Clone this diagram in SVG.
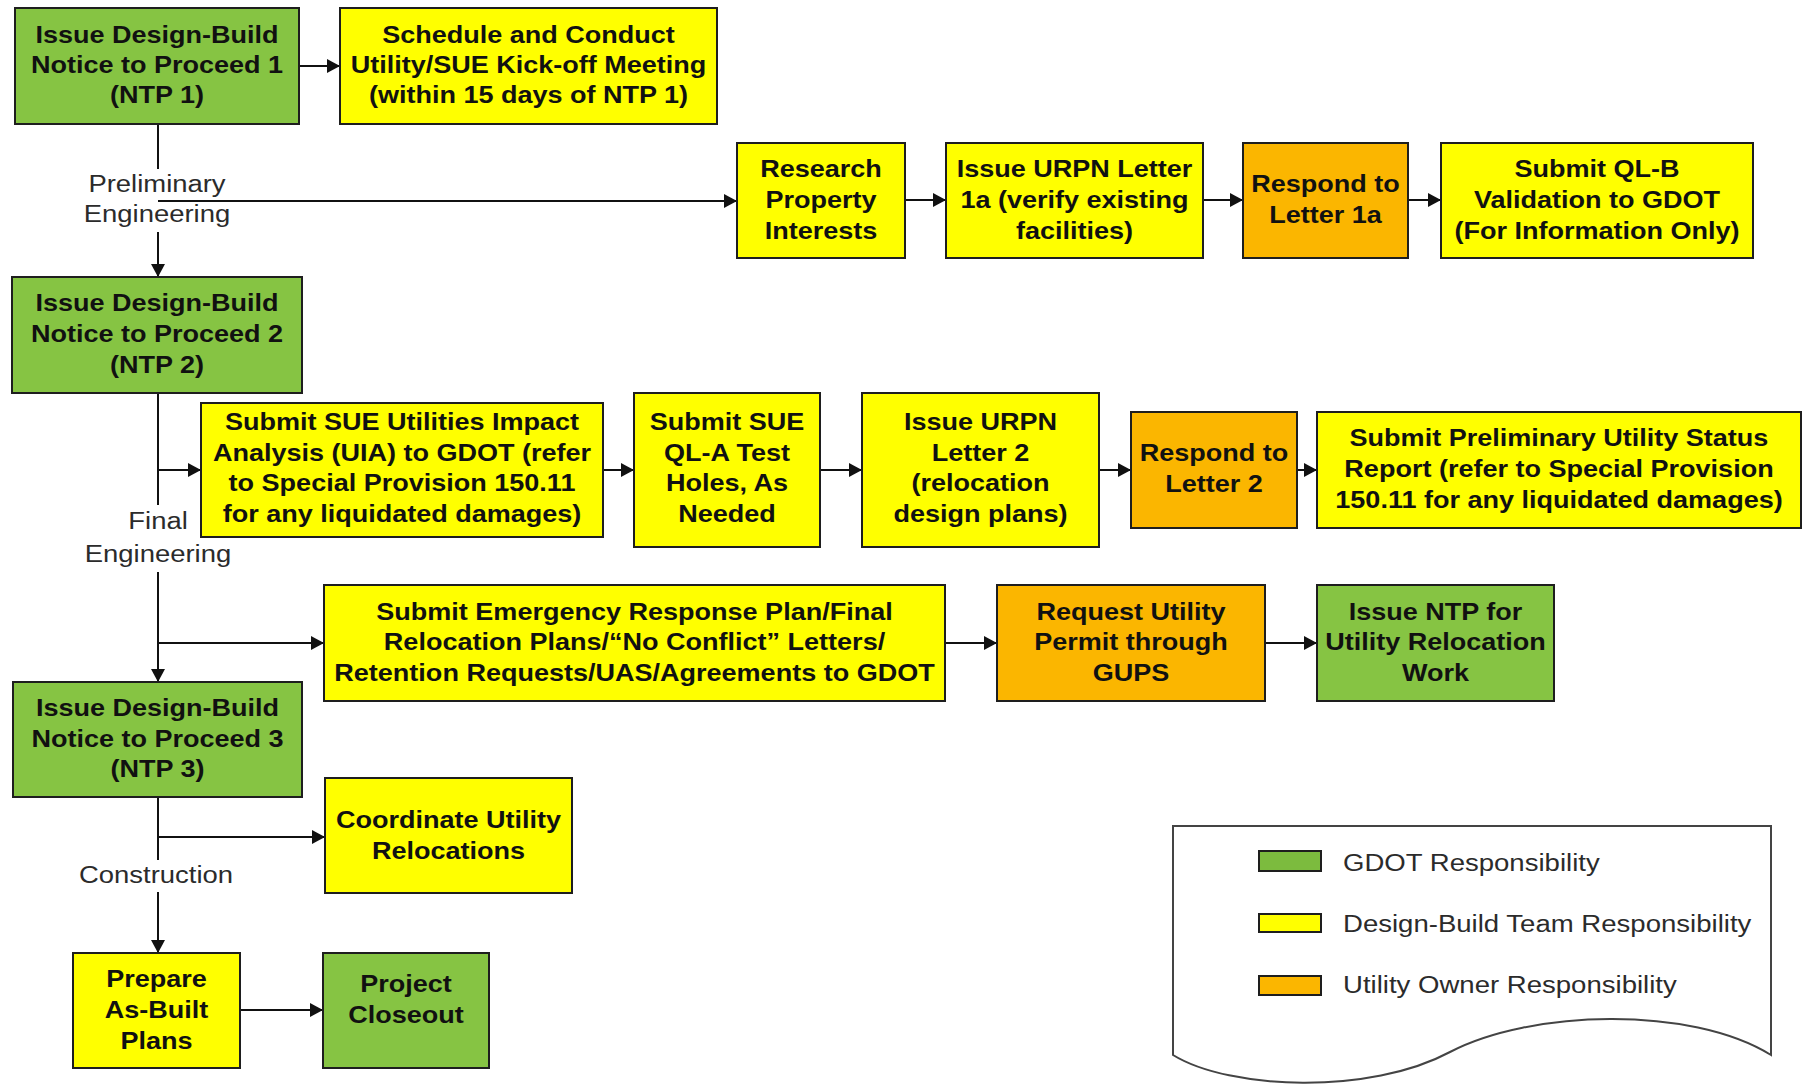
<svg xmlns="http://www.w3.org/2000/svg" width="1808" height="1086" viewBox="0 0 1808 1086">
<defs>
<style>
.box{stroke:#1e1e1e;stroke-width:2}
.g{fill:#86c443}
.y{fill:#ffff00}
.o{fill:#fbb600}
.t{font-family:"Liberation Sans",Arial,sans-serif;font-weight:bold;font-size:23.5px;fill:#111;text-anchor:middle}
.p{font-family:"Liberation Sans",Arial,sans-serif;font-size:24.5px;fill:#2b2b2b;text-anchor:middle}
.lg{font-family:"Liberation Sans",Arial,sans-serif;font-size:24.5px;fill:#2b2b2b}
.c{fill:none;stroke:#111;stroke-width:2}
</style>
<marker id="ah" viewBox="0 0 13 14" refX="13" refY="7" markerWidth="13" markerHeight="14" markerUnits="userSpaceOnUse" orient="auto"><path d="M0,0 L13,7 L0,14 z" fill="#111"/></marker>
</defs>
<rect width="1808" height="1086" fill="#ffffff"/>

<g id="connectors">
<path class="c" d="M299,66 H340" marker-end="url(#ah)"/>
<path class="c" d="M158,124 V169"/>
<path class="c" d="M158,201 H737" marker-end="url(#ah)"/>
<path class="c" d="M158,232 V277" marker-end="url(#ah)"/>
<path class="c" d="M905,200 H946" marker-end="url(#ah)"/>
<path class="c" d="M1203,200 H1243" marker-end="url(#ah)"/>
<path class="c" d="M1408,200 H1441" marker-end="url(#ah)"/>
<path class="c" d="M158,393 V505"/>
<path class="c" d="M158,470 H201" marker-end="url(#ah)"/>
<path class="c" d="M603,470 H634" marker-end="url(#ah)"/>
<path class="c" d="M820,470 H862" marker-end="url(#ah)"/>
<path class="c" d="M1099,470 H1131" marker-end="url(#ah)"/>
<path class="c" d="M1297,470 H1317" marker-end="url(#ah)"/>
<path class="c" d="M158,572 V682" marker-end="url(#ah)"/>
<path class="c" d="M158,643 H324" marker-end="url(#ah)"/>
<path class="c" d="M945,643 H997" marker-end="url(#ah)"/>
<path class="c" d="M1265,643 H1317" marker-end="url(#ah)"/>
<path class="c" d="M158,797 V860"/>
<path class="c" d="M158,837 H325" marker-end="url(#ah)"/>
<path class="c" d="M158,892 V953" marker-end="url(#ah)"/>
<path class="c" d="M240,1010 H323" marker-end="url(#ah)"/>
</g>

<g id="phase-labels">
<g transform="translate(157,0) scale(1.12,1)"><text class="p" x="0" y="192">Preliminary</text><text class="p" x="0" y="222">Engineering</text></g>
<g transform="translate(158,0) scale(1.12,1)"><text class="p" x="0" y="529">Final</text><text class="p" x="0" y="562">Engineering</text></g>
<g transform="translate(156,0) scale(1.12,1)"><text class="p" x="0" y="883">Construction</text></g>
</g>

<g id="ntp1"><rect class="box g" x="15" y="8" width="284" height="116"/>
<g transform="translate(157,0) scale(1.15,1)"><text class="t" x="0" y="43">Issue Design-Build</text><text class="t" x="0" y="73">Notice to Proceed 1</text><text class="t" x="0" y="103">(NTP 1)</text></g></g>

<g id="kickoff"><rect class="box y" x="340" y="8" width="377" height="116"/>
<g transform="translate(528.5,0) scale(1.15,1)"><text class="t" x="0" y="43">Schedule and Conduct</text><text class="t" x="0" y="73">Utility/SUE Kick-off Meeting</text><text class="t" x="0" y="103">(within 15 days of NTP 1)</text></g></g>

<g id="research"><rect class="box y" x="737" y="143" width="168" height="115"/>
<g transform="translate(821,0) scale(1.15,1)"><text class="t" x="0" y="177">Research</text><text class="t" x="0" y="208">Property</text><text class="t" x="0" y="239">Interests</text></g></g>

<g id="urpn1a"><rect class="box y" x="946" y="143" width="257" height="115"/>
<g transform="translate(1074.5,0) scale(1.15,1)"><text class="t" x="0" y="177">Issue URPN Letter</text><text class="t" x="0" y="208">1a (verify existing</text><text class="t" x="0" y="239">facilities)</text></g></g>

<g id="respond1a"><rect class="box o" x="1243" y="143" width="165" height="115"/>
<g transform="translate(1325.5,0) scale(1.15,1)"><text class="t" x="0" y="192">Respond to</text><text class="t" x="0" y="223">Letter 1a</text></g></g>

<g id="qlb"><rect class="box y" x="1441" y="143" width="312" height="115"/>
<g transform="translate(1597,0) scale(1.15,1)"><text class="t" x="0" y="177">Submit QL-B</text><text class="t" x="0" y="208">Validation to GDOT</text><text class="t" x="0" y="239">(For Information Only)</text></g></g>

<g id="ntp2"><rect class="box g" x="12" y="277" width="290" height="116"/>
<g transform="translate(157,0) scale(1.15,1)"><text class="t" x="0" y="311">Issue Design-Build</text><text class="t" x="0" y="342">Notice to Proceed 2</text><text class="t" x="0" y="373">(NTP 2)</text></g></g>

<g id="uia"><rect class="box y" x="201" y="403" width="402" height="134"/>
<g transform="translate(402,0) scale(1.15,1)"><text class="t" x="0" y="430">Submit SUE Utilities Impact</text><text class="t" x="0" y="461">Analysis (UIA) to GDOT (refer</text><text class="t" x="0" y="491">to Special Provision 150.11</text><text class="t" x="0" y="522">for any liquidated damages)</text></g></g>

<g id="qla"><rect class="box y" x="634" y="393" width="186" height="154"/>
<g transform="translate(727,0) scale(1.15,1)"><text class="t" x="0" y="430">Submit SUE</text><text class="t" x="0" y="461">QL-A Test</text><text class="t" x="0" y="491">Holes, As</text><text class="t" x="0" y="522">Needed</text></g></g>

<g id="urpn2"><rect class="box y" x="862" y="393" width="237" height="154"/>
<g transform="translate(980.5,0) scale(1.15,1)"><text class="t" x="0" y="430">Issue URPN</text><text class="t" x="0" y="461">Letter 2</text><text class="t" x="0" y="491">(relocation</text><text class="t" x="0" y="522">design plans)</text></g></g>

<g id="respond2"><rect class="box o" x="1131" y="412" width="166" height="116"/>
<g transform="translate(1214,0) scale(1.15,1)"><text class="t" x="0" y="461">Respond to</text><text class="t" x="0" y="492">Letter 2</text></g></g>

<g id="status"><rect class="box y" x="1317" y="412" width="484" height="116"/>
<g transform="translate(1559,0) scale(1.15,1)"><text class="t" x="0" y="446">Submit Preliminary Utility Status</text><text class="t" x="0" y="477">Report (refer to Special Provision</text><text class="t" x="0" y="508">150.11 for any liquidated damages)</text></g></g>

<g id="emergency"><rect class="box y" x="324" y="585" width="621" height="116"/>
<g transform="translate(634.5,0) scale(1.15,1)"><text class="t" x="0" y="620">Submit Emergency Response Plan/Final</text><text class="t" x="0" y="650">Relocation Plans/“No Conflict” Letters/</text><text class="t" x="0" y="681">Retention Requests/UAS/Agreements to GDOT</text></g></g>

<g id="permit"><rect class="box o" x="997" y="585" width="268" height="116"/>
<g transform="translate(1131,0) scale(1.15,1)"><text class="t" x="0" y="620">Request Utility</text><text class="t" x="0" y="650">Permit through</text><text class="t" x="0" y="681">GUPS</text></g></g>

<g id="ntp-utility"><rect class="box g" x="1317" y="585" width="237" height="116"/>
<g transform="translate(1435.5,0) scale(1.15,1)"><text class="t" x="0" y="620">Issue NTP for</text><text class="t" x="0" y="650">Utility Relocation</text><text class="t" x="0" y="681">Work</text></g></g>

<g id="ntp3"><rect class="box g" x="13" y="682" width="289" height="115"/>
<g transform="translate(157.5,0) scale(1.15,1)"><text class="t" x="0" y="716">Issue Design-Build</text><text class="t" x="0" y="747">Notice to Proceed 3</text><text class="t" x="0" y="777">(NTP 3)</text></g></g>

<g id="coordinate"><rect class="box y" x="325" y="778" width="247" height="115"/>
<g transform="translate(448.5,0) scale(1.15,1)"><text class="t" x="0" y="828">Coordinate Utility</text><text class="t" x="0" y="859">Relocations</text></g></g>

<g id="prepare"><rect class="box y" x="73" y="953" width="167" height="115"/>
<g transform="translate(156.5,0) scale(1.15,1)"><text class="t" x="0" y="987">Prepare</text><text class="t" x="0" y="1018">As-Built</text><text class="t" x="0" y="1049">Plans</text></g></g>

<g id="closeout"><rect class="box g" x="323" y="953" width="166" height="115"/>
<g transform="translate(406,0) scale(1.15,1)"><text class="t" x="0" y="992">Project</text><text class="t" x="0" y="1023">Closeout</text></g></g>

<g id="legend">
<path d="M1173,826 H1771 V1055 C1690,1005 1530,1010 1450,1052 C1370,1095 1230,1090 1173,1055 Z" fill="#ffffff" stroke="#444" stroke-width="2"/>
<rect x="1259" y="851" width="62" height="20" fill="#7cbb3e" stroke="#1e1e1e" stroke-width="2"/>
<rect x="1259" y="914" width="62" height="18" fill="#ffff00" stroke="#1e1e1e" stroke-width="2"/>
<rect x="1259" y="976" width="62" height="19" fill="#fbb600" stroke="#1e1e1e" stroke-width="2"/>
<g transform="translate(1343,0) scale(1.125,1)"><text class="lg" x="0" y="871">GDOT Responsibility</text><text class="lg" x="0" y="932">Design-Build Team Responsibility</text><text class="lg" x="0" y="993">Utility Owner Responsibility</text></g>
</g>
</svg>
